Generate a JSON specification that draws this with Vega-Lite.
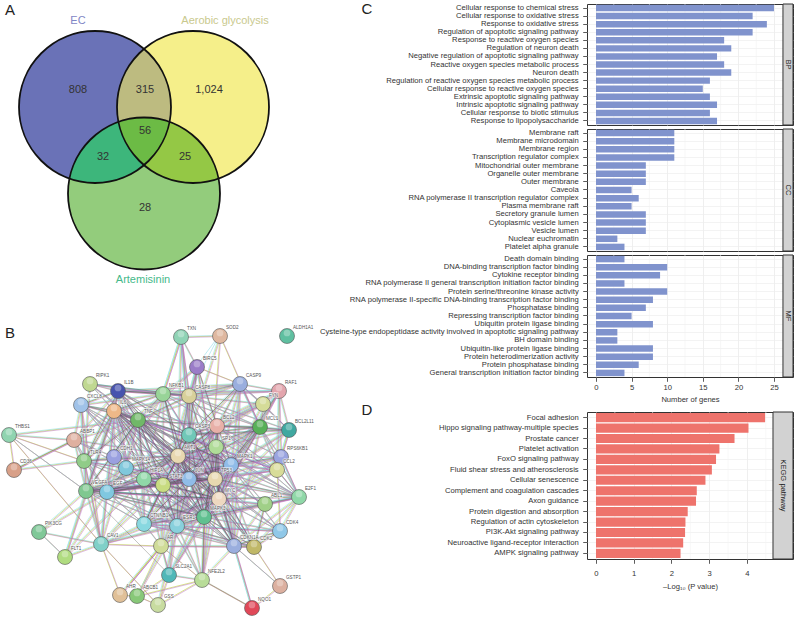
{
"$schema":"https://vega.github.io/schema/vega-lite/v6.json",
"background":"white",
"padding":{"left":0,"top":1,"right":0,"bottom":0},
"spacing":0,
"resolve":{"scale":{"color":"independent","shape":"independent"}},
"config":{"font":"Liberation Sans","view":{"stroke":null},
 "axis":{"domain":false,"tickColor":"#333","tickSize":4.3,"tickWidth":0.8,"labelFontSize":7.65,"labelColor":"#333","labelPadding":4.5,"labelLimit":400,"gridColor":"#e8e8e8","gridWidth":0.7,"titleFontSize":7.6,"titleFontWeight":"normal","titleColor":"#333","titlePadding":5}},
"datasets":{
"nodes":[
{"name":"TXN","x":180,"y":336},{"name":"SOD2","x":219,"y":335},{"name":"ALDH1A1","x":286,"y":335},{"name":"BIRC5","x":196,"y":366},
{"name":"CASP9","x":239,"y":383},{"name":"RAF1","x":278,"y":390},{"name":"FYN","x":262,"y":403},{"name":"RIPK1","x":89,"y":383},
{"name":"IL1B","x":117,"y":390},{"name":"NFKB1","x":162,"y":393},{"name":"CASP8","x":188,"y":395},{"name":"CXCL8","x":80,"y":404},
{"name":"IL6","x":113,"y":410},{"name":"TNF","x":137,"y":419},{"name":"ABBP1","x":73,"y":439},{"name":"THBS1","x":8,"y":434},
{"name":"CD36","x":13,"y":469},{"name":"TLR4","x":83,"y":460},{"name":"CDH1","x":113,"y":456},{"name":"MAPK14","x":125,"y":467},
{"name":"HIF1A","x":143,"y":478},{"name":"STAT3","x":162,"y":484},{"name":"JUN","x":188,"y":478},{"name":"TP53","x":214,"y":478},
{"name":"MAPK1","x":230,"y":464},{"name":"AKT1","x":177,"y":455},{"name":"CASP3","x":188,"y":434},{"name":"BCL2","x":216,"y":425},
{"name":"SP1","x":215,"y":446},{"name":"MCL1","x":259,"y":426},{"name":"BCL2L11","x":288,"y":429},{"name":"RPS6KB1","x":280,"y":456},
{"name":"CCL2","x":276,"y":469},{"name":"E2F1","x":298,"y":496},{"name":"ABL1","x":264,"y":503},{"name":"MYC","x":218,"y":498},
{"name":"MAPK3","x":203,"y":516},{"name":"CDK4","x":279,"y":530},{"name":"CDKN1A","x":233,"y":545},{"name":"CDK2","x":253,"y":546},
{"name":"ESR1","x":176,"y":525},{"name":"CTNNB1","x":143,"y":523},{"name":"PIK3CG","x":38,"y":531},{"name":"CAV1","x":100,"y":543},
{"name":"FLT1","x":64,"y":556},{"name":"AR","x":160,"y":545},{"name":"VEGFA","x":85,"y":490},{"name":"EGF","x":106,"y":491},
{"name":"SLC2A1","x":168,"y":574},{"name":"NFE2L2","x":201,"y":579},{"name":"AHR","x":119,"y":594},{"name":"ABCB1","x":136,"y":595},
{"name":"GSS","x":157,"y":604},{"name":"NQO1","x":251,"y":607},{"name":"GSTP1","x":279,"y":585}],
"edges":[
{"source":"AKT1","kinds":"ypck","targets":["TP53","MYC","MAPK3","MAPK1","STAT3","HIF1A","JUN","TNF","IL6","CASP3","BCL2","ESR1","CTNNB1","EGF","VEGFA","SP1","MCL1","CASP8","CDKN1A","IL1B","NFKB1","TLR4","MAPK14","CDK2"]},
{"source":"AKT1","kinds":"ypc","targets":["E2F1","RAF1","CASP9","BCL2L11","RPS6KB1","CCL2","BIRC5","TXN","CDK4","AR","SLC2A1","NFE2L2","CAV1","ABBP1","CXCL8","RIPK1","FYN","ABL1","CDH1"]},
{"source":"TP53","kinds":"ypck","targets":["MYC","MAPK3","MAPK1","STAT3","HIF1A","JUN","TNF","IL6","CASP3","BCL2","ESR1","CTNNB1","EGF","VEGFA","SP1","MCL1","CASP8","CDKN1A","CDK2","E2F1"]},
{"source":"TP53","kinds":"ypc","targets":["CDK4","AR","NFE2L2","ABL1","BIRC5","CASP9","BCL2L11","RAF1","RPS6KB1","CCL2","MAPK14","NFKB1","IL1B","SLC2A1","NQO1"]},
{"source":"MYC","kinds":"ypck","targets":["MAPK3","MAPK1","STAT3","HIF1A","JUN","TNF","IL6","CASP3","BCL2","ESR1","CTNNB1","EGF","VEGFA","SP1","MCL1","CDKN1A","CDK2","E2F1"]},
{"source":"MYC","kinds":"ypc","targets":["CDK4","AR","ABL1","CCL2","RPS6KB1","BCL2L11","CAV1","SLC2A1","NFE2L2","RAF1"]},
{"source":"MAPK3","kinds":"ypck","targets":["MAPK1","STAT3","HIF1A","JUN","TNF","IL6","CASP3","BCL2","ESR1","CTNNB1","EGF","VEGFA","SP1","CDKN1A","CDK2","E2F1"]},
{"source":"MAPK3","kinds":"ypc","targets":["ABL1","MCL1","RAF1","RPS6KB1","CCL2","CDK4","AR","NFE2L2","SLC2A1","CAV1","CXCL8","IL1B","TLR4","CASP8"]},
{"source":"MAPK1","kinds":"ypck","targets":["STAT3","HIF1A","JUN","TNF","IL6","CASP3","BCL2","SP1","MCL1","RAF1","RPS6KB1"]},
{"source":"MAPK1","kinds":"ypc","targets":["EGF","VEGFA","CCL2","BCL2L11","ESR1","CTNNB1","ABL1","E2F1","CDKN1A","CASP9","FYN"]},
{"source":"STAT3","kinds":"ypck","targets":["HIF1A","JUN","TNF","IL6","CASP3","BCL2","ESR1","CTNNB1","EGF","VEGFA","MCL1"]},
{"source":"STAT3","kinds":"ypc","targets":["SP1","CDKN1A","CCL2","IL1B","TLR4","CXCL8","AR","NFKB1","BIRC5","MAPK14","CAV1"]},
{"source":"HIF1A","kinds":"ypck","targets":["JUN","TNF","IL6","VEGFA","EGF","CASP3","BCL2","ESR1"]},
{"source":"HIF1A","kinds":"ypc","targets":["SLC2A1","CTNNB1","NFKB1","IL1B","FLT1","SP1","CDKN1A","NFE2L2","CXCL8","MAPK14"]},
{"source":"JUN","kinds":"ypck","targets":["TNF","IL6","CASP3","BCL2","ESR1","CTNNB1","EGF","SP1","NFKB1","CDKN1A"]},
{"source":"JUN","kinds":"ypc","targets":["VEGFA","IL1B","MAPK14","CXCL8","AR","E2F1","MCL1","CCL2","TLR4"]},
{"source":"TNF","kinds":"ypck","targets":["IL6","IL1B","NFKB1","CXCL8","CASP3","CASP8","BCL2","VEGFA","TLR4"]},
{"source":"TNF","kinds":"ypc","targets":["RIPK1","EGF","MAPK14","CCL2","CASP9","BIRC5","ABBP1","CTNNB1","CDH1","ESR1","SP1","CAV1","THBS1"]},
{"source":"IL6","kinds":"ypck","targets":["IL1B","CXCL8","NFKB1","VEGFA","TLR4","CASP3"]},
{"source":"IL6","kinds":"ypc","targets":["ABBP1","EGF","MAPK14","CCL2","BCL2","CASP8","CDH1","ESR1","CTNNB1","RIPK1","FLT1","CAV1"]},
{"source":"IL1B","kinds":"ypck","targets":["CXCL8","NFKB1","CASP8","CASP3","TLR4"]},
{"source":"IL1B","kinds":"ypc","targets":["RIPK1","ABBP1","CCL2","MAPK14","VEGFA","CASP9","RAF1"]},
{"source":"NFKB1","kinds":"ypc","targets":["CASP8","CASP9","RIPK1","CXCL8","TLR4","BCL2","CASP3","RAF1","BIRC5","TXN","MCL1","EGF"]},
{"source":"CASP8","kinds":"ypck","targets":["CASP3","CASP9","RIPK1","BCL2"]},
{"source":"CASP8","kinds":"ypc","targets":["BIRC5","TXN","MCL1","BCL2L11","FYN","RAF1","SP1"]},
{"source":"CASP3","kinds":"ypck","targets":["BCL2","MCL1","CASP9","BIRC5","BCL2L11"]},
{"source":"CASP3","kinds":"ypc","targets":["SP1","FYN","RAF1","SOD2","TXN","CDKN1A","CDK2","ESR1","CTNNB1","MAPK14","E2F1"]},
{"source":"BCL2","kinds":"ypck","targets":["MCL1","BCL2L11","CASP9","BIRC5"]},
{"source":"BCL2","kinds":"ypc","targets":["FYN","RAF1","SP1","CDKN1A","E2F1","ESR1","CTNNB1","CCL2","RPS6KB1"]},
{"source":"MCL1","kinds":"ypc","targets":["BCL2L11","CASP9","FYN","RAF1","RPS6KB1","SP1","CCL2","E2F1","CDKN1A"]},
{"source":"SP1","kinds":"ypc","targets":["ESR1","CDKN1A","E2F1","EGF","VEGFA","CDK2","CDK4","CTNNB1","AR","CCL2"]},
{"source":"E2F1","kinds":"ypc","targets":["ABL1","CDK4","CDK2","CDKN1A","RPS6KB1","CCL2","ESR1","CTNNB1"]},
{"source":"CDK4","kinds":"ypck","targets":["CDK2","CDKN1A"]},
{"source":"CDK2","kinds":"ypck","targets":["CDKN1A","ESR1","ABL1"]},
{"source":"CDKN1A","kinds":"ypc","targets":["ESR1","CTNNB1","AR","ABL1","NFE2L2","NQO1","GSTP1","CASP9"]},
{"source":"ESR1","kinds":"ypc","targets":["CTNNB1","AR","EGF","VEGFA","AHR","ABCB1","SLC2A1","GSS","CAV1","NFE2L2","CDK4"]},
{"source":"CTNNB1","kinds":"ypc","targets":["EGF","VEGFA","CAV1","AR","CDH1","CDK2","CDK4"]},
{"source":"EGF","kinds":"ypck","targets":["VEGFA","MAPK14"]},
{"source":"EGF","kinds":"ypc","targets":["CAV1","FLT1","PIK3CG","TLR4","ABL1","ABBP1","RPS6KB1","CDH1"]},
{"source":"VEGFA","kinds":"ypc","targets":["FLT1","CAV1","PIK3CG","THBS1","TLR4","ABBP1","CXCL8","MAPK14"]},
{"source":"VEGFA","kinds":"k","targets":["SLC2A1","TNF"]},
{"source":"TLR4","kinds":"ypc","targets":["ABBP1","CD36","CXCL8","CAV1","MAPK14","RIPK1","CDH1"]},
{"source":"ABBP1","kinds":"ypc","targets":["CXCL8","THBS1","CD36","MAPK14","CDH1"]},
{"source":"THBS1","kinds":"yp","targets":["CD36","TLR4","CAV1"]},
{"source":"CD36","kinds":"ypk","targets":["ABBP1"]},
{"source":"TXN","kinds":"ypc","targets":["SOD2","CASP8","NFKB1","CASP3","BIRC5"]},
{"source":"SOD2","kinds":"c","targets":["BIRC5","CASP8"]},
{"source":"SOD2","kinds":"yp","targets":["MCL1","NFE2L2"]},
{"source":"BIRC5","kinds":"yp","targets":["CASP9","CASP8","MYC"]},
{"source":"CASP9","kinds":"ypc","targets":["RAF1","FYN","MCL1","BCL2L11"]},
{"source":"RAF1","kinds":"ypc","targets":["FYN","BCL2L11","RPS6KB1","CCL2"]},
{"source":"BCL2L11","kinds":"ypc","targets":["RPS6KB1","FYN","CCL2"]},
{"source":"RPS6KB1","kinds":"ypc","targets":["CCL2","E2F1"]},
{"source":"CCL2","kinds":"yp","targets":["E2F1","CDK4"]},
{"source":"PIK3CG","kinds":"ypc","targets":["FLT1","CAV1"]},
{"source":"FLT1","kinds":"ypc","targets":["CAV1"]},
{"source":"CAV1","kinds":"yp","targets":["AHR","GSS","AR","CXCL8","TLR4"]},
{"source":"AR","kinds":"yp","targets":["AHR","SLC2A1","NFE2L2","ABCB1","CDK2"]},
{"source":"AHR","kinds":"yp","targets":["ABCB1","ESR1"]},
{"source":"ABCB1","kinds":"yp","targets":["SLC2A1","NFE2L2","GSS"]},
{"source":"GSS","kinds":"yp","targets":["SLC2A1","NFE2L2"]},
{"source":"SLC2A1","kinds":"ypc","targets":["MAPK3","NFE2L2"]},
{"source":"NFE2L2","kinds":"ypk","targets":["MAPK3","NQO1"]},
{"source":"NQO1","kinds":"yp","targets":["GSTP1"]},
{"source":"GSTP1","kinds":"yp","targets":["CDK2"]}
]},
"hconcat":[
{"spacing":0,"resolve":{"scale":{"color":"independent","shape":"independent"}},"vconcat":[
 {"width":318,"height":297,
  "encoding":{"x":{"field":"x","type":"quantitative","scale":{"domain":[0,318],"nice":false},"axis":null},
              "y":{"field":"y","type":"quantitative","scale":{"domain":[3,300],"nice":false,"reverse":true},"axis":null}},
  "layer":[
  {"data":{"values":[{"set":"EC","x":94,"y":106},{"set":"Aerobic glycolysis","x":192,"y":106},{"set":"Artemisinin","x":143,"y":192.5}]},
   "mark":{"type":"point","filled":true,"size":23104,"opacity":1,"strokeWidth":0},
   "encoding":{"fill":{"field":"set","type":"nominal","legend":null,"scale":{"domain":["EC","Aerobic glycolysis","Artemisinin"],"range":["#6a72b7","#f5ef8a","#93cc7c"]}}}},
  {"data":{"values":[{"region":"EC and Aerobic","x":143,"y":135},{"region":"EC and Artemisinin","x":143,"y":135},{"region":"Aerobic and Artemisinin","x":143,"y":135},{"region":"All three","x":143,"y":135}]},
   "mark":{"type":"point","filled":true,"size":23104,"opacity":1,"strokeWidth":0},
   "encoding":{"color":{"field":"region","type":"nominal","legend":null,"scale":{"domain":["EC and Aerobic","EC and Artemisinin","Aerobic and Artemisinin","All three"],"range":["#bdbb80","#3db67b","#94c845","#6cbb45"]}},
   "shape":{"field":"region","type":"nominal","legend":null,"scale":{"domain":["EC and Aerobic","EC and Artemisinin","Aerobic and Artemisinin","All three"],
    "range":["M0,-1.1461 A1,1,0,0,1,0,0.3829 A1,1,0,0,1,0,-1.1461 Z","M0.3355,-0.1855 A1,1,0,0,1,-0.9803,0.5605 A1,1,0,0,1,0.3355,-0.1855 Z","M-0.3355,-0.1855 A1,1,0,0,1,0.9803,0.5605 A1,1,0,0,1,-0.3355,-0.1855 Z","M-0.3355,-0.1855 A1,1,0,0,1,0.3355,-0.1855 A1,1,0,0,1,0,0.3829 A1,1,0,0,1,-0.3355,-0.1855 Z"]}}}},
  {"data":{"values":[{"set":"EC","x":94,"y":106},{"set":"Aerobic glycolysis","x":192,"y":106},{"set":"Artemisinin","x":143,"y":192.5}]},
   "mark":{"type":"point","filled":false,"size":23104,"opacity":1,"stroke":"#111","strokeWidth":1.8}},
  {"data":{"values":[{"count":"808","x":77,"y":89},{"count":"315","x":144,"y":89},{"count":"1,024","x":208,"y":89},{"count":"56","x":144,"y":130},{"count":"32","x":102,"y":156},{"count":"25","x":184,"y":156},{"count":"28","x":144,"y":207}]},
   "mark":{"type":"text","fontSize":11,"color":"#333"},"encoding":{"text":{"field":"count"}}},
  {"data":{"values":[{"name":"EC","x":77,"y":19.5},{"name":"Aerobic glycolysis","x":224,"y":19.5},{"name":"Artemisinin","x":142,"y":279}]},
   "mark":{"type":"text","fontSize":11},
   "encoding":{"text":{"field":"name"},"fill":{"field":"name","type":"nominal","legend":null,"scale":{"domain":["EC","Aerobic glycolysis","Artemisinin"],"range":["#7f86c6","#c9c98e","#45b98a"]}}}},
  {"data":{"values":[{"panel":"A","x":9,"y":9}]},"mark":{"type":"text","fontSize":15,"color":"#222"},"encoding":{"text":{"field":"panel"}}}
  ],
  "resolve":{"scale":{"fill":"independent"}}},
 {"width":318,"height":315,
  "encoding":{"x":{"field":"x","type":"quantitative","scale":{"domain":[0,318],"nice":false},"axis":null},
              "y":{"field":"y","type":"quantitative","scale":{"domain":[300,615],"nice":false,"reverse":true},"axis":null}},
  "layer":[
  {"data":{"name":"edges"},
   "transform":[{"flatten":["targets"],"as":["target"]},
    {"lookup":"source","from":{"data":{"name":"nodes"},"key":"name","fields":["x","y"]},"as":["x","y"]},
    {"lookup":"target","from":{"data":{"name":"nodes"},"key":"name","fields":["x","y"]},"as":["tx","ty"]}],
   "encoding":{"x2":{"field":"tx"},"y2":{"field":"ty"}},
   "layer":[
    {"transform":[{"filter":"indexof(datum.kinds,'y')>=0"}],"mark":{"type":"rule","color":"#c8dc5a","strokeWidth":0.8,"opacity":0.9}},
    {"transform":[{"filter":"indexof(datum.kinds,'c')>=0"}],"mark":{"type":"rule","color":"#8cdcea","strokeWidth":0.7,"opacity":0.8,"xOffset":-0.8,"x2Offset":-0.8,"yOffset":-0.6,"y2Offset":-0.6}},
    {"transform":[{"filter":"indexof(datum.kinds,'p')>=0"}],"mark":{"type":"rule","color":"#b86cc0","strokeWidth":0.65,"opacity":0.72,"xOffset":0.8,"x2Offset":0.8,"yOffset":0.6,"y2Offset":0.6}},
    {"transform":[{"filter":"indexof(datum.kinds,'k')>=0"}],"mark":{"type":"rule","color":"#4a4a40","strokeWidth":0.55,"opacity":0.6,"xOffset":0.3,"x2Offset":0.3,"yOffset":-0.3,"y2Offset":-0.3}}
   ]},
  {"data":{"name":"nodes"},
   "layer":[
    {"mark":{"type":"point","filled":true,"size":225,"opacity":1,"stroke":"#555","strokeWidth":0.6},
     "encoding":{"color":{"field":"name","type":"nominal","legend":null,"scale":{
      "domain":["TXN","SOD2","ALDH1A1","BIRC5","CASP9","RAF1","FYN","RIPK1","IL1B","NFKB1","CASP8","CXCL8","IL6","TNF","ABBP1","THBS1","CD36","TLR4","CDH1","MAPK14","HIF1A","STAT3","JUN","TP53","MAPK1","AKT1","CASP3","BCL2","SP1","MCL1","BCL2L11","RPS6KB1","CCL2","E2F1","ABL1","MYC","MAPK3","CDK4","CDKN1A","CDK2","ESR1","CTNNB1","PIK3CG","CAV1","FLT1","AR","VEGFA","EGF","SLC2A1","NFE2L2","AHR","ABCB1","GSS","NQO1","GSTP1"],
      "range":["#8fd3b5","#dfb8a0","#5fbfa0","#9a7cc8","#9aaede","#e3a5ad","#d5dc98","#c0d892","#4753ae","#98d498","#d8d09a","#a0c2e8","#eeb888","#70b868","#dfb0a0","#90d4b0","#d8a088","#90cc88","#9aa0e0","#80c8dc","#90d8a8","#c8dc80","#90bce8","#e8d8b0","#90bce8","#e8d8b0","#70c8b8","#e8b0a8","#b0dc98","#58b058","#40a8a0","#9aa4e0","#d8dc98","#90d8a8","#a0d088","#eed8c0","#60c090","#90c8e8","#9aaede","#c0b868","#88d0dc","#88d8e0","#80c898","#80d0c8","#b0dc80","#d0dc98","#80c890","#80c8e0","#50b8b8","#b8dc98","#e0c098","#88c878","#c8dca0","#e04858","#dcb0a0"]}}}},
    {"mark":{"type":"point","filled":true,"size":45,"opacity":0.3,"color":"white","yOffset":-3,"strokeWidth":0}},
    {"mark":{"type":"text","fontSize":4.6,"align":"left","dx":6,"dy":-8,"stroke":"white","strokeWidth":1.6,"strokeOpacity":0.6,"color":"white"},"encoding":{"text":{"field":"name"}}},
    {"mark":{"type":"text","fontSize":4.6,"align":"left","dx":6,"dy":-8,"color":"#555"},"encoding":{"text":{"field":"name"}}}
   ]},
  {"data":{"values":[{"panel":"B","x":9,"y":332}]},"mark":{"type":"text","fontSize":15,"color":"#222"},"encoding":{"text":{"field":"panel"}}}
  ]}
]},
{"spacing":-3,"vconcat":[
 {"spacing":2,"vconcat":[
  {"width":206,"height":121,"view":{"stroke":"#333"},
   "encoding":{"x":{"field":"value","type":"quantitative","scale":{"domain":[-1.264,27.67],"nice":false},"axis":{"title":null,"values":[0,5,10,15,20,25],"labels":false,"ticks":false,"grid":true}}},
   "layer":[
    {"data":{"values":[{"value":2.5},{"value":7.5},{"value":12.5},{"value":17.5},{"value":22.5}]},"mark":{"type":"rule","color":"#f2f2f2","strokeWidth":0.6}},
    {"data":{"values":[{"term":"Cellular response to chemical stress","value":25},{"term":"Cellular response to oxidative stress","value":22},{"term":"Response to oxidative stress","value":24},{"term":"Regulation of apoptotic signaling pathway","value":22},{"term":"Response to reactive oxygen species","value":18},{"term":"Regulation of neuron death","value":19},{"term":"Negative regulation of apoptotic signaling pathway","value":17},{"term":"Reactive oxygen species metabolic process","value":18},{"term":"Neuron death","value":19},{"term":"Regulation of reactive oxygen species metabolic process","value":16},{"term":"Cellular response to reactive oxygen species","value":15},{"term":"Extrinsic apoptotic signaling pathway","value":16},{"term":"Intrinsic apoptotic signaling pathway","value":17},{"term":"Cellular response to biotic stimulus","value":16},{"term":"Response to lipopolysaccharide","value":17}]},
     "mark":{"type":"bar","color":"#8093cd"},
     "encoding":{"x2":{"datum":0},"y":{"field":"term","type":"nominal","sort":null,"scale":{"paddingInner":0.2,"paddingOuter":0.1},"axis":{"title":null,"grid":true,"gridColor":"#eee"}}}},
    {"data":{"values":[{"value":26.26,"end":27.67}]},"mark":{"type":"rect","fill":"#d2d2d2","stroke":"#333","strokeWidth":1},"encoding":{"x2":{"field":"end"}}},
    {"data":{"values":[{"value":26.97,"strip":"BP"}]},"mark":{"type":"text","angle":90,"fontSize":7.6,"color":"#222"},"encoding":{"text":{"field":"strip"}}},
    {"data":{"values":[{"value":-32.16,"panel":"C"}]},"mark":{"type":"text","fontSize":15,"color":"#222","dy":-55.5},"encoding":{"text":{"field":"panel"}}}
   ]},
  {"width":206,"height":122,"view":{"stroke":"#333"},
   "encoding":{"x":{"field":"value","type":"quantitative","scale":{"domain":[-1.264,27.67],"nice":false},"axis":{"title":null,"values":[0,5,10,15,20,25],"labels":false,"ticks":false,"grid":true}}},
   "layer":[
    {"data":{"values":[{"value":2.5},{"value":7.5},{"value":12.5},{"value":17.5},{"value":22.5}]},"mark":{"type":"rule","color":"#f2f2f2","strokeWidth":0.6}},
    {"data":{"values":[{"term":"Membrane raft","value":11},{"term":"Membrane microdomain","value":11},{"term":"Membrane region","value":11},{"term":"Transcription regulator complex","value":11},{"term":"Mitochondrial outer membrane","value":7},{"term":"Organelle outer membrane","value":7},{"term":"Outer membrane","value":7},{"term":"Caveola","value":5},{"term":"RNA polymerase II transcription regulator complex","value":6},{"term":"Plasma membrane raft","value":5},{"term":"Secretory granule lumen","value":7},{"term":"Cytoplasmic vesicle lumen","value":7},{"term":"Vesicle lumen","value":7},{"term":"Nuclear euchromatin","value":3},{"term":"Platelet alpha granule","value":4}]},
     "mark":{"type":"bar","color":"#8093cd"},
     "encoding":{"x2":{"datum":0},"y":{"field":"term","type":"nominal","sort":null,"scale":{"paddingInner":0.2,"paddingOuter":0.1},"axis":{"title":null,"grid":true,"gridColor":"#eee"}}}},
    {"data":{"values":[{"value":26.26,"end":27.67}]},"mark":{"type":"rect","fill":"#d2d2d2","stroke":"#333","strokeWidth":1},"encoding":{"x2":{"field":"end"}}},
    {"data":{"values":[{"value":26.97,"strip":"CC"}]},"mark":{"type":"text","angle":90,"fontSize":7.6,"color":"#222"},"encoding":{"text":{"field":"strip"}}}
   ]},
  {"width":206,"height":122,"view":{"stroke":"#333"},
   "encoding":{"x":{"field":"value","type":"quantitative","scale":{"domain":[-1.264,27.67],"nice":false},"axis":{"title":"Number of genes","values":[0,5,10,15,20,25],"grid":true,"labelFlush":false,"labelPadding":2}}},
   "layer":[
    {"data":{"values":[{"value":2.5},{"value":7.5},{"value":12.5},{"value":17.5},{"value":22.5}]},"mark":{"type":"rule","color":"#f2f2f2","strokeWidth":0.6}},
    {"data":{"values":[{"term":"Death domain binding","value":4},{"term":"DNA-binding transcription factor binding","value":10},{"term":"Cytokine receptor binding","value":9},{"term":"RNA polymerase II general transcription initiation factor binding","value":4},{"term":"Protein serine/threonine kinase activity","value":10},{"term":"RNA polymerase II-specific DNA-binding transcription factor binding","value":8},{"term":"Phosphatase binding","value":7},{"term":"Repressing transcription factor binding","value":5},{"term":"Ubiquitin protein ligase binding","value":8},{"term":"Cysteine-type endopeptidase activity involved in apoptotic signaling pathway","value":3},{"term":"BH domain binding","value":3},{"term":"Ubiquitin-like protein ligase binding","value":8},{"term":"Protein heterodimerization activity","value":8},{"term":"Protein phosphatase binding","value":6},{"term":"General transcription initiation factor binding","value":4}]},
     "mark":{"type":"bar","color":"#8093cd"},
     "encoding":{"x2":{"datum":0},"y":{"field":"term","type":"nominal","sort":null,"scale":{"paddingInner":0.2,"paddingOuter":0.1},"axis":{"title":null,"grid":true,"gridColor":"#eee"}}}},
    {"data":{"values":[{"value":26.26,"end":27.67}]},"mark":{"type":"rect","fill":"#d2d2d2","stroke":"#333","strokeWidth":1},"encoding":{"x2":{"field":"end"}}},
    {"data":{"values":[{"value":26.97,"strip":"MF"}]},"mark":{"type":"text","angle":90,"fontSize":7.6,"color":"#222"},"encoding":{"text":{"field":"strip"}}}
   ]}
 ]},
 {"width":206,"height":147,"view":{"stroke":"#333"},
  "encoding":{"x":{"field":"value","type":"quantitative","scale":{"domain":[-0.238,5.219],"nice":false},"axis":{"title":"–Log₁₀ (P value)","values":[0,1,2,3,4],"grid":true,"labelFlush":false,"labelPadding":6,"titlePadding":6}}},
  "layer":[
   {"data":{"values":[{"value":0.5},{"value":1.5},{"value":2.5},{"value":3.5},{"value":4.5}]},"mark":{"type":"rule","color":"#f2f2f2","strokeWidth":0.6}},
   {"data":{"values":[{"term":"Focal adhesion","value":4.48},{"term":"Hippo signaling pathway-multiple species","value":4.04},{"term":"Prostate cancer","value":3.67},{"term":"Platelet activation","value":3.27},{"term":"FoxO signaling pathway","value":3.18},{"term":"Fluid shear stress and atherosclerosis","value":3.07},{"term":"Cellular senescence","value":2.9},{"term":"Complement and coagulation cascades","value":2.67},{"term":"Axon guidance","value":2.65},{"term":"Protein digestion and absorption","value":2.43},{"term":"Regulation of actin cytoskeleton","value":2.37},{"term":"PI3K-Akt signaling pathway","value":2.36},{"term":"Neuroactive ligand-receptor interaction","value":2.31},{"term":"AMPK signaling pathway","value":2.24}]},
    "mark":{"type":"bar","color":"#ee736c"},
    "encoding":{"x2":{"datum":0},"y":{"field":"term","type":"nominal","sort":null,"scale":{"paddingInner":0.12,"paddingOuter":0.1},"axis":{"title":null,"grid":true,"gridColor":"#eee"}}}},
   {"data":{"values":[{"value":4.689,"end":5.219}]},"mark":{"type":"rect","fill":"#d2d2d2","stroke":"#333","strokeWidth":1},"encoding":{"x2":{"field":"end"}}},
   {"data":{"values":[{"value":4.954,"strip":"KEGG pathway"}]},"mark":{"type":"text","angle":90,"fontSize":7.6,"color":"#222"},"encoding":{"text":{"field":"strip"}}},
   {"data":{"values":[{"value":-6.07,"panel":"D"}]},"mark":{"type":"text","fontSize":15,"color":"#222","dy":-75.5},"encoding":{"text":{"field":"panel"}}}
  ]}
]}
]}
